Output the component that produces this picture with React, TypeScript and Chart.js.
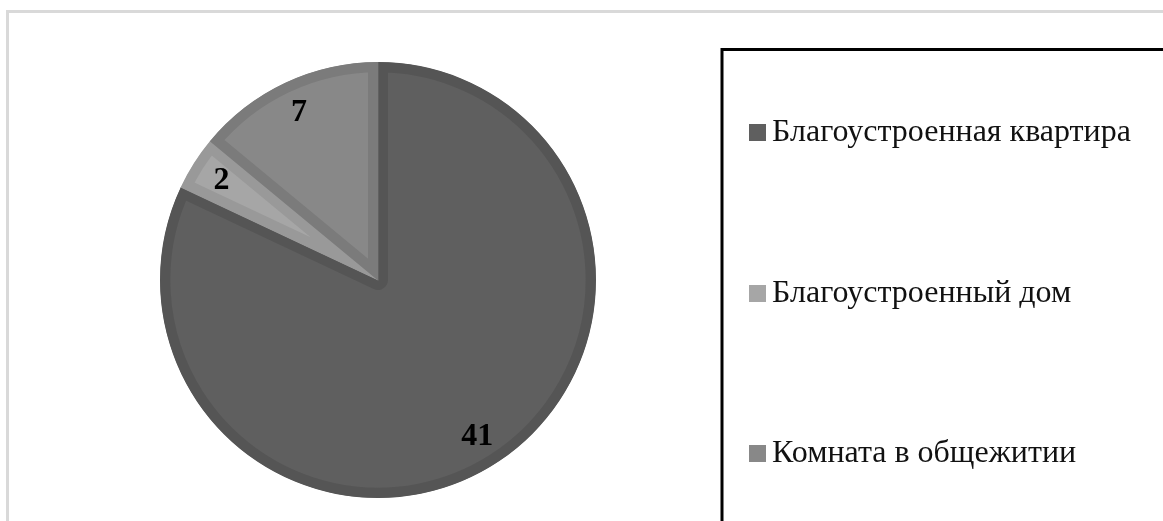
import React, { useEffect, useRef } from "react";
import { Chart, registerables } from "chart.js";

Chart.register(...registerables);

const categories = ["Благоустроенная квартира", "Благоустроенный дом", "Комната в общежитии"];
const values = [41, 2, 7];
const fillColors = ["#5f5f5f", "#a6a6a6", "#888888"];
const borderColors = ["#555555", "#999999", "#7b7b7b"];

const W = 1163;
const H = 521;

const decorPlugin = {
  id: "decor",
  beforeDraw(chart: any) {
    const ctx = chart.ctx;
    ctx.save();
    ctx.fillStyle = "#ffffff";
    ctx.fillRect(0, 0, W, H);
    ctx.strokeStyle = "#d9d9d9";
    ctx.lineWidth = 3;
    ctx.strokeRect(7.5, 11.5, 1300, 700);
    ctx.strokeStyle = "#000000";
    ctx.lineWidth = 3;
    ctx.strokeRect(722, 49.5, 1300, 700);
    ctx.restore();
  },
  afterDraw(chart: any) {
    const ctx = chart.ctx;
    ctx.save();
    const meta = chart.getDatasetMeta(0);
    const data = chart.data.datasets[0].data as number[];
    ctx.font = "bold 32px 'Liberation Serif', 'Times New Roman', serif";
    ctx.fillStyle = "#000000";
    ctx.textAlign = "center";
    ctx.textBaseline = "middle";
    meta.data.forEach((arc: any, i: number) => {
      const p = arc.getProps(["x", "y", "startAngle", "endAngle", "outerRadius"], true);
      const mid = (p.startAngle + p.endAngle) / 2;
      const r = p.outerRadius * 0.85;
      ctx.fillText(String(data[i]), p.x + Math.cos(mid) * r, p.y + Math.sin(mid) * r);
    });
    const labels = chart.data.labels as string[];
    const colors = chart.data.datasets[0].backgroundColor as string[];
    const ys = [132, 293, 453];
    ctx.font = "32px 'Liberation Serif', 'Times New Roman', serif";
    ctx.textAlign = "left";
    labels.forEach((lab, i) => {
      const y = ys[i];
      ctx.fillStyle = colors[i];
      ctx.fillRect(749, y - 8, 17, 17);
      ctx.fillStyle = "#111111";
      ctx.fillText(lab, 772, y + 1);
    });
    ctx.restore();
  },
};

export default function App() {
  const ref = useRef<HTMLCanvasElement | null>(null);
  useEffect(() => {
    if (!ref.current) return;
    const chart = new Chart(ref.current, {
      type: "pie",
      data: {
        labels: categories,
        datasets: [
          {
            data: values,
            backgroundColor: fillColors,
            borderColor: borderColors,
            borderWidth: 10,
            borderAlign: "inner",
          } as any,
        ],
      },
      options: {
        responsive: false,
        animation: false,
        layout: { padding: { left: 160, top: 62, right: 567, bottom: 23 } },
        plugins: {
          legend: { display: false },
          tooltip: { enabled: false },
        },
      },
      plugins: [decorPlugin],
    });
    return () => chart.destroy();
  }, []);
  return (
    <div style={{ position: "fixed", left: 0, top: 0, width: W, height: H, background: "#fff" }}>
      <canvas ref={ref} width={W} height={H} style={{ width: W, height: H, display: "block" }} />
    </div>
  );
}
